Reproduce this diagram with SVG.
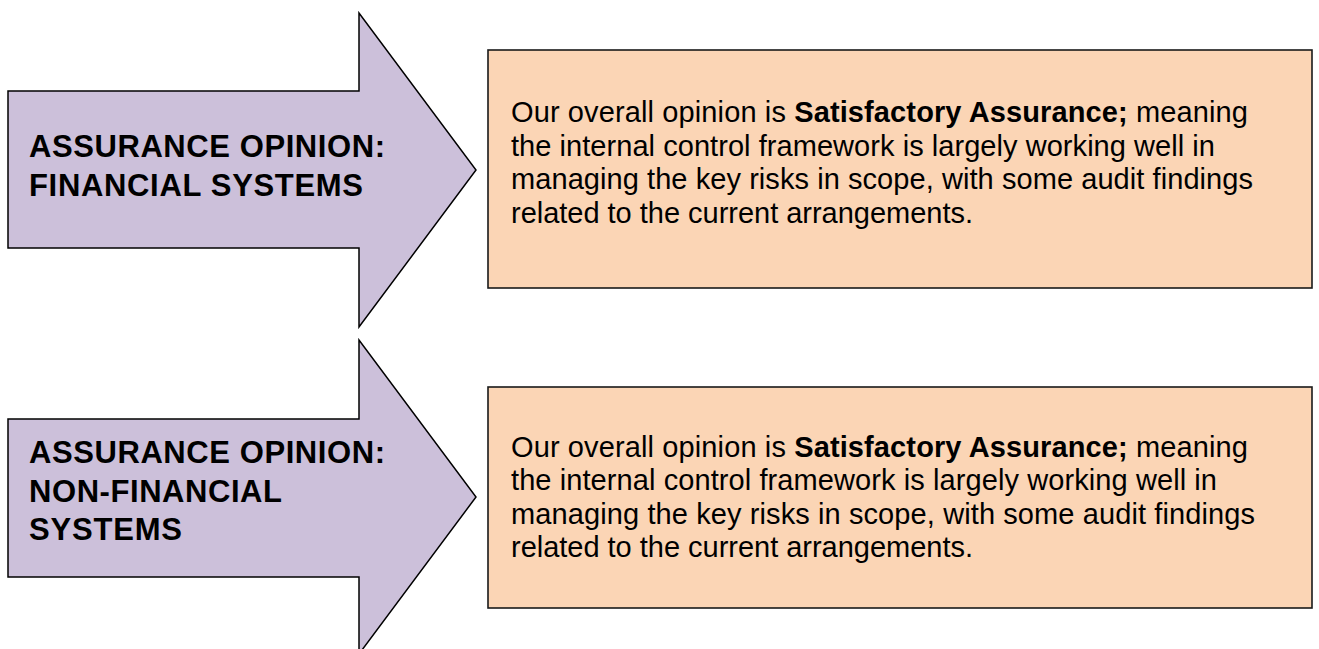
<svg xmlns="http://www.w3.org/2000/svg" width="1319" height="649" viewBox="0 0 1319 649">
<style>
.arrow{fill:#CCC0DA;stroke:#000;stroke-width:1.5;stroke-linejoin:miter}
.box{fill:#FBD5B5;stroke:#1a1a1a;stroke-width:1.6}
.title{font-family:"Liberation Sans",Arial,sans-serif;font-weight:bold;font-size:31px;fill:#000}
.body{font-family:"Liberation Sans",Arial,sans-serif;font-size:29px;fill:#000}
.b{font-weight:bold}
</style>
<rect width="1319" height="649" fill="#fff"/>
<g id="connectors"></g>
<g id="arrow-financial">
<polygon class="arrow" points="8,91 359,91 359,13 476,170 359,327 359,248 8,248"/>
<text class="title" x="29" y="157" textLength="356" lengthAdjust="spacing">ASSURANCE OPINION:</text>
<text class="title" x="29" y="196" textLength="334" lengthAdjust="spacing">FINANCIAL SYSTEMS</text>
</g>
<g id="box-financial">
<rect class="box" x="488" y="50" width="824" height="238"/>
<text class="body" x="511" y="122" textLength="737" lengthAdjust="spacing">Our overall opinion is <tspan class="b">Satisfactory Assurance;</tspan> meaning</text>
<text class="body" x="511" y="155.5" textLength="704" lengthAdjust="spacing">the internal control framework is largely working well in</text>
<text class="body" x="511" y="189" textLength="742" lengthAdjust="spacing">managing the key risks in scope, with some audit findings</text>
<text class="body" x="511" y="222.5" textLength="462" lengthAdjust="spacing">related to the current arrangements.</text>
</g>
<g id="arrow-nonfinancial">
<polygon class="arrow" points="8,419 359,419 359,340 476,497 359,654 359,577 8,577"/>
<text class="title" x="29" y="463" textLength="356" lengthAdjust="spacing">ASSURANCE OPINION:</text>
<text class="title" x="29" y="501.5" textLength="253" lengthAdjust="spacing">NON-FINANCIAL</text>
<text class="title" x="29" y="540" textLength="153" lengthAdjust="spacing">SYSTEMS</text>
</g>
<g id="box-nonfinancial">
<rect class="box" x="488" y="387" width="824" height="221"/>
<text class="body" x="511" y="456.5" textLength="737" lengthAdjust="spacing">Our overall opinion is <tspan class="b">Satisfactory Assurance;</tspan> meaning</text>
<text class="body" x="511" y="490" textLength="706" lengthAdjust="spacing">the internal control framework is largely working well in</text>
<text class="body" x="511" y="523.5" textLength="744" lengthAdjust="spacing">managing the key risks in scope, with some audit findings</text>
<text class="body" x="511" y="557" textLength="462" lengthAdjust="spacing">related to the current arrangements.</text>
</g>
</svg>
